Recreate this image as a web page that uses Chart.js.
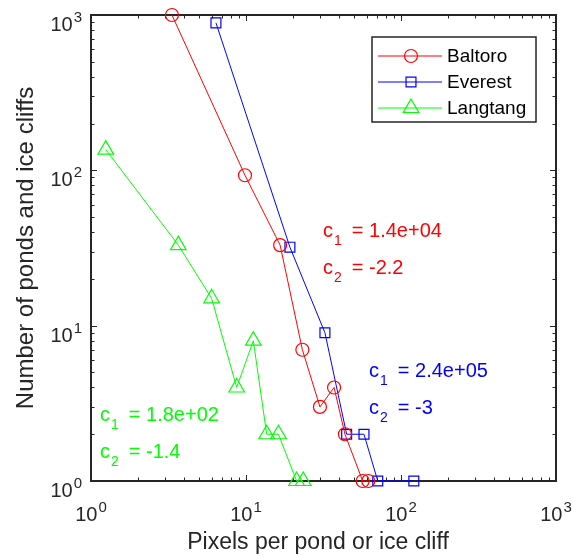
<!DOCTYPE html>
<html lang="en">
<head>
<meta charset="UTF-8">
<title>Ponds and ice cliffs</title>
<script src="https://cdn.jsdelivr.net/npm/chart.js"></script>
<style>
  html, body { margin: 0; padding: 0; background: #fff; }
  #wrap { width: 572px; height: 558px; }
</style>
</head>
<body>
<div id="wrap"><canvas id="grafico" width="572" height="558"></canvas></div>
<script>
// decades on both log axes and their exponents
const decades = [1, 10, 100, 1000];
const decadeExponents = ['0', '1', '2', '3'];

// size distribution per glacier (pixels per feature vs. count)
const baltoroX = [3.33, 9.85, 16.6, 23.1, 30, 37, 43.5, 56.6, 61.5];
const baltoroY = [1000, 93, 33, 7, 3, 4, 2, 1, 1];
const everestX = [6.4, 19.2, 32.3, 44.6, 57.7, 70.8, 121];
const everestY = [890, 32, 9, 2, 2, 1, 1];
const langtangX = [1.245, 3.66, 6.0, 8.71, 11.15, 13.6, 16.2, 21.2, 23.4];
const langtangY = [136, 33, 15, 4, 8, 2, 2, 1, 1];

const seriesNames = ['Baltoro', 'Everest', 'Langtang'];

// power law fit coefficients for each glacier
const fitC1 = ['1.4e+04', '2.4e+05', '1.8e+02'];
const fitC2 = ['-2.2', '-3', '-1.4'];

const FONT = '"Liberation Sans", Arial, Helvetica, sans-serif';
const AXIS_COLOR = '#262626';
const colors = ['#ff0000', '#0000ff', '#00ff00'];
const styles = ['circle', 'rect', 'triangle'];
const radii = [6.5, 7, 9];

function serie(i, xs, ys) {
    return {
        label: seriesNames[i],
        data: xs.map((x, k) => ({ x: x, y: ys[k] })),
        showLine: true,
        borderColor: colors[i],
        borderWidth: 1,
        pointStyle: styles[i],
        pointRadius: radii[i],
        pointHoverRadius: radii[i],
        pointBorderColor: colors[i],
        pointBackgroundColor: 'rgba(0,0,0,0)',
        pointBorderWidth: 1.2,
        clip: false
    };
}

// marker shapes, same geometry as Chart.js point styles
function marker(ctx, style, x, y, r) {
    ctx.beginPath();
    if (style === 'circle') {
        ctx.arc(x, y, r, 0, Math.PI * 2);
    } else if (style === 'rect') {
        const s = r * Math.SQRT1_2;
        ctx.rect(x - s, y - s, 2 * s, 2 * s);
    } else {
        ctx.moveTo(x, y - r);
        ctx.lineTo(x + r * Math.sin(2 * Math.PI / 3), y + r * 0.5);
        ctx.lineTo(x - r * Math.sin(2 * Math.PI / 3), y + r * 0.5);
        ctx.closePath();
    }
    ctx.stroke();
}

// "10" with a raised exponent; y is the baseline of "10"
function power10(ctx, x, y, exp, align) {
    ctx.font = '20px ' + FONT;
    const wb = ctx.measureText('10').width;
    ctx.font = '15px ' + FONT;
    const we = ctx.measureText(exp).width;
    const total = wb + 1 + we;
    const left = align === 'center' ? x - total / 2 : x - total;
    ctx.textAlign = 'left';
    ctx.textBaseline = 'alphabetic';
    ctx.font = '20px ' + FONT;
    ctx.fillText('10', left, y);
    ctx.font = '15px ' + FONT;
    ctx.fillText(exp, left + wb + 1, y - 9);
}

// "c" + subscript + rest
function fitLabel(ctx, x, y, sub, rest, color) {
    ctx.fillStyle = color;
    ctx.textAlign = 'left';
    ctx.textBaseline = 'alphabetic';
    ctx.font = '20px ' + FONT;
    ctx.fillText('c', x, y);
    const wc = ctx.measureText('c').width;
    ctx.font = '14px ' + FONT;
    ctx.fillText(sub, x + wc + 1, y + 8);
    const ws = ctx.measureText(sub).width;
    ctx.font = '20px ' + FONT;
    ctx.fillText('= ' + rest, x + wc + 1 + ws + 10, y);
}

const eixos = {
    id: 'eixos',
    beforeDatasetsDraw(chart) {
        const ctx = chart.ctx;
        const a = chart.chartArea;
        const sx = chart.scales.x, sy = chart.scales.y;
        ctx.save();
        ctx.strokeStyle = AXIS_COLOR;
        ctx.lineWidth = 1;
        // ticks pointing inward on all four sides
        ctx.beginPath();
        for (let d = 0; d < decades.length; d++) {
            for (let m = 1; m <= 9; m++) {
                const v = decades[d] * m;
                if (v > 1000) break;
                const len = m === 1 ? 6 : 3.5;
                const px = Math.round(sx.getPixelForValue(v)) + 0.5;
                const py = Math.round(sy.getPixelForValue(v)) + 0.5;
                ctx.moveTo(px, a.bottom); ctx.lineTo(px, a.bottom - len);
                ctx.moveTo(px, a.top); ctx.lineTo(px, a.top + len);
                ctx.moveTo(a.left, py); ctx.lineTo(a.left + len, py);
                ctx.moveTo(a.right, py); ctx.lineTo(a.right - len, py);
            }
        }
        ctx.stroke();
        ctx.lineWidth = 2;
        ctx.strokeRect(a.left, a.top, a.right - a.left, a.bottom - a.top);

        // tick labels
        ctx.fillStyle = AXIS_COLOR;
        decades.forEach((v, i) => {
            power10(ctx, sx.getPixelForValue(v), a.bottom + 40, decadeExponents[i], 'center');
            power10(ctx, a.left - 9, sy.getPixelForValue(v) + 16, decadeExponents[i], 'right');
        });

        // axis titles
        ctx.textAlign = 'center';
        ctx.textBaseline = 'alphabetic';
        ctx.font = '23px ' + FONT;
        ctx.fillText('Pixels per pond or ice cliff', 318, 549);
        ctx.font = '24px ' + FONT;
        ctx.translate(33, (a.top + a.bottom) / 2);
        ctx.rotate(-Math.PI / 2);
        ctx.fillText('Number of ponds and ice cliffs', 0, 0);
        ctx.restore();
    },
    afterDraw(chart) {
        const ctx = chart.ctx;
        ctx.save();
        // legend box
        const box = { left: 372, top: 37, right: 536, bottom: 122 };
        const rows = [56, 82, 108];
        ctx.fillStyle = '#fff';
        ctx.fillRect(box.left, box.top, box.right - box.left, box.bottom - box.top);
        ctx.strokeStyle = AXIS_COLOR;
        ctx.lineWidth = 1.5;
        ctx.strokeRect(box.left, box.top, box.right - box.left, box.bottom - box.top);
        chart.data.datasets.forEach((ds, i) => {
            const y = rows[i];
            ctx.strokeStyle = ds.borderColor;
            ctx.lineWidth = 1;
            ctx.beginPath();
            ctx.moveTo(378, y); ctx.lineTo(442, y);
            ctx.stroke();
            ctx.lineWidth = 1.2;
            marker(ctx, ds.pointStyle, 411, y, ds.pointRadius);
            ctx.fillStyle = '#000';
            ctx.font = '19px ' + FONT;
            ctx.textAlign = 'left';
            ctx.textBaseline = 'middle';
            ctx.fillText(ds.label, 447, y + 1);
        });

        // fit coefficients
        const spots = [[323, 237], [369, 377], [100, 421]];
        spots.forEach((p, i) => {
            fitLabel(ctx, p[0], p[1], '1', fitC1[i], colors[i]);
            fitLabel(ctx, p[0], p[1] + 37, '2', fitC2[i], colors[i]);
        });
        ctx.restore();
    }
};

const grafico = new Chart(document.getElementById('grafico'), {
    type: 'scatter',
    data: {
        datasets: [
            serie(0, baltoroX, baltoroY),
            serie(1, everestX, everestY),
            serie(2, langtangX, langtangY)
        ]
    },
    options: {
        responsive: false,
        animation: false,
        layout: { padding: { left: 91, top: 15, right: 16, bottom: 77 } },
        plugins: { legend: { display: false }, tooltip: { enabled: false } },
        scales: {
            x: { type: 'logarithmic', min: 1, max: 1000, display: false },
            y: { type: 'logarithmic', min: 1, max: 1000, display: false }
        }
    },
    plugins: [eixos]
});
</script>
</body>
</html>
